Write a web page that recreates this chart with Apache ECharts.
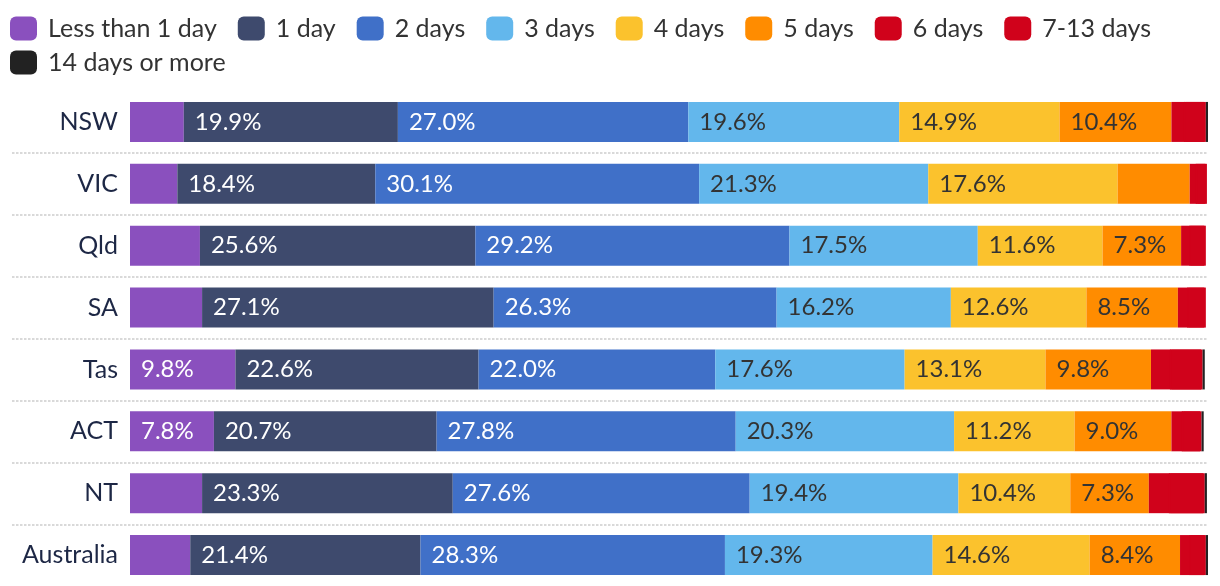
<!DOCTYPE html>
<html>
<head>
<meta charset="utf-8">
<script src="https://cdn.jsdelivr.net/npm/echarts@6/dist/echarts.min.js"></script>
<style>
html,body{margin:0;padding:0;background:#fff;}
#chart{width:1220px;height:586px;}
</style>
</head>
<body>
<div id="chart"></div>
<script>
const categories = ['NSW', 'VIC', 'Qld', 'SA', 'Tas', 'ACT', 'NT', 'Australia'];
const seriesNames = ['Less than 1 day', '1 day', '2 days', '3 days', '4 days', '5 days', '6 days', '7-13 days', '14 days or more'];
const lessThan1Day = [5.0, 4.4, 6.5, 6.7, 9.8, 7.8, 6.7, 5.6];
const oneDay = [19.9, 18.4, 25.6, 27.1, 22.6, 20.7, 23.3, 21.4];
const twoDays = [27.0, 30.1, 29.2, 26.3, 22.0, 27.8, 27.6, 28.3];
const threeDays = [19.6, 21.3, 17.5, 16.2, 17.6, 20.3, 19.4, 19.3];
const fourDays = [14.9, 17.6, 11.6, 12.6, 13.1, 11.2, 10.4, 14.6];
const fiveDays = [10.4, 6.7, 7.3, 8.5, 9.8, 9.0, 7.3, 8.4];
const sixDays = [1.3, 0.7, 0.9, 1.0, 1.9, 1.1, 2.0, 1.0];
const sevenTo13Days = [1.9, 0.9, 1.4, 1.6, 2.9, 1.7, 3.2, 1.4];
const fourteenPlus = [0.2, 0.0, 0.0, 0.0, 0.2, 0.2, 0.2, 0.2];

const seriesValues = [lessThan1Day, oneDay, twoDays, threeDays, fourDays, fiveDays, sixDays, sevenTo13Days, fourteenPlus];
const colors = ['#8a50be', '#3e4a6d', '#4070c8', '#63b7ec', '#fbc22d', '#ff8c00', '#d0021b', '#d0021b', '#222222'];
const labelColors = ['#ffffff', '#ffffff', '#ffffff', '#333333', '#333333', '#333333', '#333333', '#333333', '#ffffff'];
const FONT = 'Lato';

const chart = echarts.init(document.getElementById('chart'), null, {renderer: 'canvas'});

const barSeries = seriesNames.map((name, i) => ({
  name: name,
  type: 'bar',
  stack: 'total',
  xAxisIndex: 0,
  yAxisIndex: 0,
  barWidth: 40,
  // 7-13 days shares the 6 days colour: a 1px same-colour shadow hides the anti-aliasing seam between them
  itemStyle: i === 7
    ? {color: colors[i], shadowColor: colors[i], shadowBlur: 0, shadowOffsetX: -1.5, shadowOffsetY: 0}
    : {color: colors[i]},
  label: {
    show: true,
    position: 'insideLeft',
    distance: 11,
    fontFamily: FONT,
    fontSize: 24,
    color: labelColors[i],
    formatter: p => (p.value >= 7 ? p.value.toFixed(1) + '%' : '')
  },
  emphasis: {disabled: true},
  data: seriesValues[i]
}));

const legendText = {fontFamily: FONT, fontSize: 25, color: '#333333', padding: [0, 0, 0, 6]};

chart.setOption({
  animation: false,
  color: colors,
  legend: [
    {
      data: seriesNames.slice(0, 8),
      left: 10, top: 16, right: 0, padding: 0,
      icon: 'roundRect',
      itemWidth: 27, itemHeight: 24, itemGap: 21,
      textStyle: legendText,
      selectedMode: false
    },
    {
      data: seriesNames.slice(8),
      left: 10, top: 50, padding: 0,
      icon: 'roundRect',
      itemWidth: 27, itemHeight: 24, itemGap: 21,
      textStyle: legendText,
      selectedMode: false
    }
  ],
  grid: [
    {left: 130, width: 1078, top: 91, height: 496, containLabel: false},
    {left: 12, width: 1196, top: 152.7, height: 372, containLabel: false}
  ],
  xAxis: [
    {type: 'value', gridIndex: 0, min: 0, max: 100.2, show: false},
    {type: 'value', gridIndex: 1, min: 0, max: 1, show: false}
  ],
  yAxis: [
    {
      type: 'category', gridIndex: 0, data: categories, inverse: true,
      axisLine: {show: false}, axisTick: {show: false}, splitLine: {show: false},
      axisLabel: {fontFamily: FONT, fontSize: 25, color: '#1d2745', margin: 12}
    },
    {
      type: 'value', gridIndex: 1, min: 1, max: 7, interval: 1, inverse: true,
      axisLine: {show: false}, axisTick: {show: false}, axisLabel: {show: false},
      splitLine: {show: true, lineStyle: {color: '#d9d9d9', width: 2, type: [2.5, 1.5]}}
    }
  ],
  series: barSeries.concat([{
    type: 'scatter', xAxisIndex: 1, yAxisIndex: 1, data: [], silent: true
  }])
});
</script>
</body>
</html>
